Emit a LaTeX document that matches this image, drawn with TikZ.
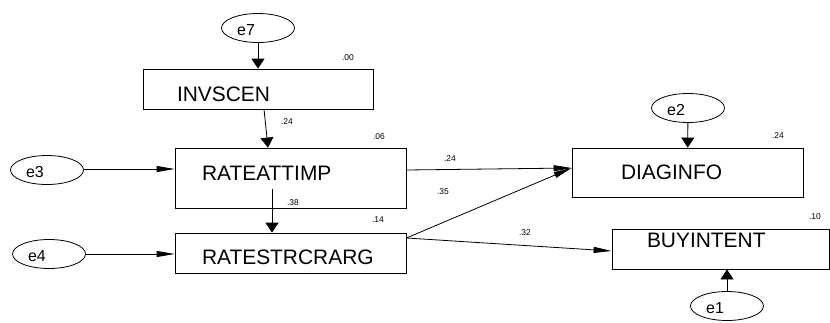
\documentclass[tikz,border=0pt]{standalone}
\usepackage{fontspec}
\setmainfont{Liberation Sans}
\usepackage{tikz}
\usetikzlibrary{arrows.meta}
\usetikzlibrary{shapes.geometric}
\usetikzlibrary{calc}
\begin{document}
\begin{tikzpicture}[x=1bp,y=-1bp,line width=.8bp,
 var/.style={draw,rectangle,inner sep=0pt,minimum width=231bp,minimum height=40bp},
 vartext/.style={anchor=west,inner sep=0pt,font=\fontsize{21}{24}\selectfont},
 err/.style={draw,ellipse,inner sep=0pt,minimum width=73bp,minimum height=29bp},
 errtext/.style={inner sep=0pt,font=\fontsize{16}{19}\selectfont},
 est/.style={inner sep=0pt,font=\fontsize{8.5}{10}\selectfont},
 arrv/.style={-{Triangle[width=13bp,length=10bp]}},
 arrh/.style={-{Triangle[width=6bp,length=18bp]}}]
\useasboundingbox (0,0) rectangle (830,322);
%observed variables
\node[var,minimum width=230bp] (invscen) at (258,89) {};
\node[var,minimum height=60bp] (rateattimp) at (290.5,178) {};
\node[var] (ratestrcrarg) at (290.5,253) {};
\node[var,minimum height=49bp] (diaginfo) at (687.5,172.5) {};
\node[var,minimum width=217bp] (buyintent) at (720.5,249) {};
\node[vartext] (invscen-t) at ($(invscen.west)+(34,5)$) {INVSCEN};
\node[vartext] (rateattimp-t) at ($(rateattimp.west)+(27,-5)$) {RATEATTIMP};
\node[vartext] (ratestrcrarg-t) at ($(ratestrcrarg.west)+(27,4)$) {RATESTRCRARG};
\node[vartext] (diaginfo-t) at ($(diaginfo.west)+(49,0)$) {DIAGINFO};
\node[vartext] (buyintent-t) at ($(buyintent.west)+(35,-9)$) {BUYINTENT};
%error terms
\foreach \e/\p in {e7/{(258,28)},e3/{(47,170)},e4/{(49,254)},e2/{(688,108)},e1/{(727,306)}} {
  \node[err] (\e) at \p {};
  \node[errtext] (\e-t) at ($(\e)+(-12,2)$) {\e};
}
%paths
\coordinate (e3-out) at ($(e3.east)+(0,-1)$);
\coordinate (str-out) at ($(ratestrcrarg.east)+(0,-15)$);
\coordinate (diag-in) at ($(diaginfo.west)+(0,-4.5)$);
\draw[arrv] (e7) -- (invscen);
\draw[arrv] ($(invscen.south)+(6,0)$) -- ($(rateattimp.north)+(-22.5,0)$);
\draw[arrv] ($(rateattimp.center)+(-18.5,11)$) -- ($(ratestrcrarg.north)+(-18.5,0)$);
\draw[arrv] (e2) -- (diaginfo);
\draw[arrv] (e1.north) -- (e1 |- buyintent.south);
\draw[arrh] (e3-out) -- (e3-out -| rateattimp.west);
\draw[arrh] (e4.east) -- (e4 -| ratestrcrarg.west);
\draw[arrh] ($(rateattimp.east)+(0,-8)$) -- (diag-in);
\draw[arrh] (str-out) -- (diag-in);
\draw[arrh] (str-out) -- ($(buyintent.west)+(0,2)$);
%estimates
\node[est] (r-invscen) at (348,58) {.00};
\node[est] (r-rateattimp) at (379,137) {.06};
\node[est] (r-ratestrcrarg) at (378,220) {.14};
\node[est] (r-diaginfo) at (778,136) {.24};
\node[est] (r-buyintent) at (815,217) {.10};
\node[est] (w-inv-rate) at (287,122) {.24};
\node[est] (w-rate-str) at (293,203) {.38};
\node[est] (w-rate-diag) at (450,159) {.24};
\node[est] (w-str-diag) at (443,192) {.35};
\node[est] (w-str-buy) at (525,233) {.32};
\end{tikzpicture}
\end{document}
